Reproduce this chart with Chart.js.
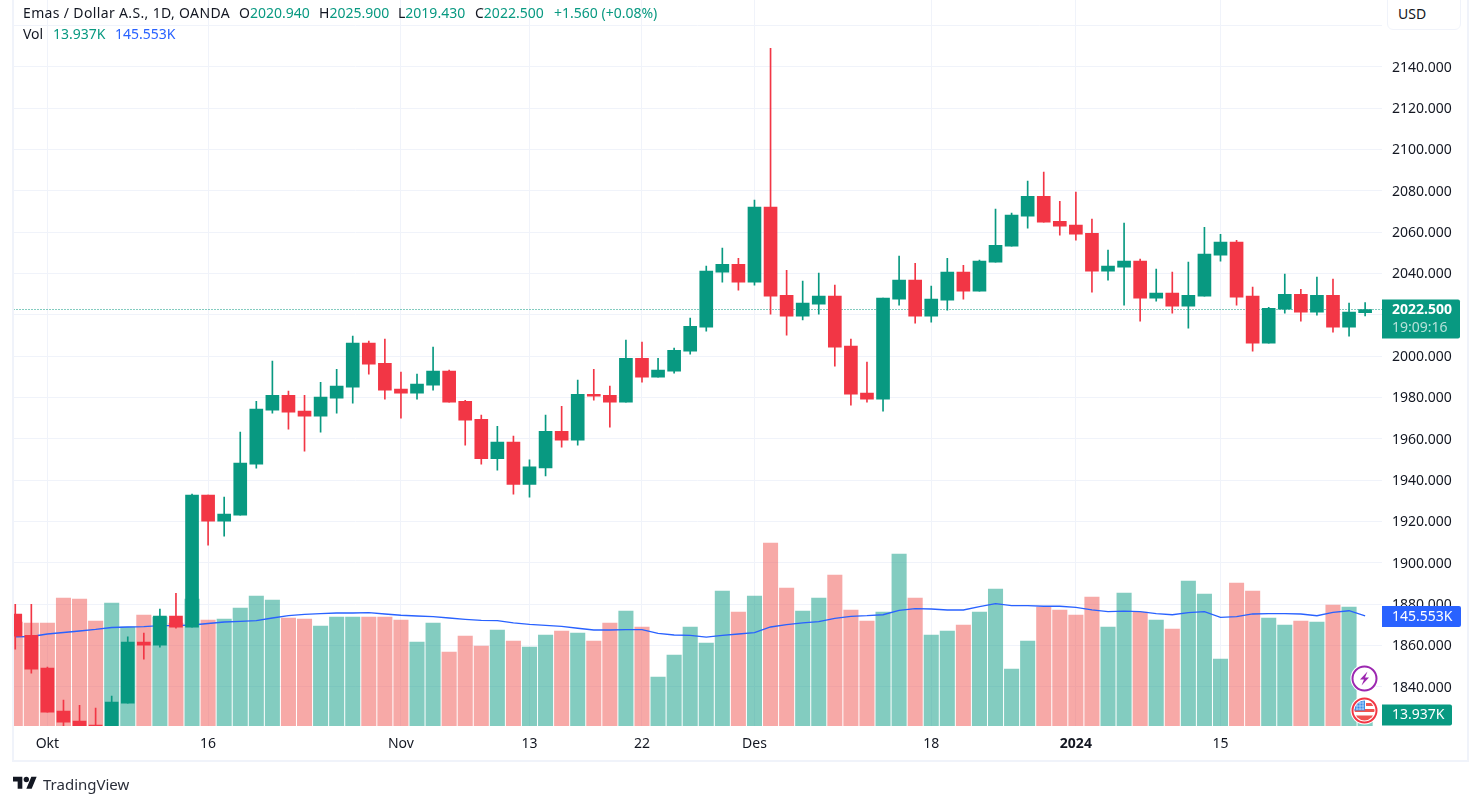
<!DOCTYPE html>
<html>
<head>
<meta charset="utf-8">
<title>Emas / Dollar A.S.</title>
<script src="https://cdn.jsdelivr.net/npm/chart.js@4/dist/chart.umd.min.js"></script>
<style>
  html, body { margin: 0; padding: 0; background: #fff; overflow: hidden; }
  body { width: 1480px; height: 805px; position: relative; font-family: "Noto Sans", sans-serif; color: #131722; }
  #chart { position: absolute; left: 0; top: 0; }
  #frame { position: absolute; left: 12px; top: -4px; width: 1457px; height: 766px; box-sizing: border-box; border: 2px solid #f0f3fa; }
  #usd { position: absolute; left: 1387px; top: -6px; width: 74px; height: 36px; box-sizing: border-box; border: 1px solid #f0f3fa; border-radius: 6px; background: #fff; }
  .t { position: absolute; font-size: 14px; line-height: 20px; white-space: nowrap; }
  .up { color: #089981; }
  .blue { color: #2962ff; }
  .icon { position: absolute; }
</style>
</head>
<body>
<canvas id="chart" width="1480" height="805"></canvas>
<div id="frame"></div>
<div id="usd"></div>
<div class="t" style="left:1398px;top:4px">USD</div>

<div class="t" style="left:23px;top:3px;letter-spacing:0.35px">Emas / Dollar A.S., 1D, OANDA</div>
<div class="t" style="left:239px;top:3px">O<span class="up">2020.940</span></div>
<div class="t" style="left:319px;top:3px">H<span class="up">2025.900</span></div>
<div class="t" style="left:398px;top:3px">L<span class="up">2019.430</span></div>
<div class="t" style="left:475px;top:3px">C<span class="up">2022.500</span></div>
<div class="t up" style="left:554px;top:3px">+1.560 (+0.08%)</div>
<div class="t" style="left:23px;top:24px">Vol</div>
<div class="t up" style="left:53px;top:24px">13.937K</div>
<div class="t blue" style="left:115px;top:24px">145.553K</div>

<svg class="icon" style="left:1350px;top:664px" width="29" height="29" viewBox="0 0 29 29">
  <circle cx="14.5" cy="14.5" r="14" fill="#fff"/>
  <circle cx="14.5" cy="14.5" r="12" fill="#fff" stroke="#9c27b0" stroke-width="2"/>
  <path d="M17.5 7.5 L10 15.5 H14 L11.5 21.5 L19 13.5 H15 Z" fill="#9c27b0"/>
</svg>
<svg class="icon" style="left:1350px;top:696px" width="29" height="29" viewBox="0 0 29 29">
  <defs><clipPath id="flagClip"><circle cx="14.5" cy="14.5" r="10"/></clipPath></defs>
  <circle cx="14.5" cy="14.5" r="14" fill="#fff"/>
  <circle cx="14.5" cy="14.5" r="12" fill="#fff" stroke="#f23645" stroke-width="2"/>
  <g clip-path="url(#flagClip)">
    <rect x="3" y="13" width="23" height="3" fill="#ef5350"/>
    <rect x="3" y="19.5" width="23" height="6" fill="#ef5350"/>
    <rect x="16" y="7" width="10" height="3" fill="#ef5350"/>
    <rect x="3" y="3" width="12" height="11.5" fill="#3d8ee6"/>
    <path d="M6 7h8M6 10h8M6 13h8M7 5v9M10 5v9M13 5v9" stroke="#cfe3fa" stroke-width="0.7"/>
  </g>
</svg>

<svg class="icon" style="left:13px;top:774px" width="24" height="19" viewBox="0 0 36 28">
  <path d="M14 22H7V11H0V4h14v18zM28 22h-8l7.5-18h8L28 22z" fill="#131722"/>
  <circle cx="20" cy="8" r="4" fill="#131722"/>
</svg>
<div class="t" style="left:43px;top:774px;font-size:15px;color:#2a2e39">TradingView</div>

<script>
const opens = [
  1875.1,1864.9,1849.0,1828.2,1823.3,1821.4,1816.5,1832.0,1861.6,1860.1,
  1874.1,1868.8,1932.7,1920.1,1923.0,1947.7,1973.8,1981.0,1973.3,1970.9,
  1979.6,1984.9,2006.2,1996.5,1984.0,1982.0,1985.9,1992.7,1978.1,1969.4,
  1950.3,1958.3,1937.9,1945.9,1963.6,1959.3,1981.5,1981.0,1977.7,1998.9,
  1989.8,1992.7,2002.3,2014.0,2040.6,2044.4,2035.7,2072.0,2029.4,2019.3,
  2025.1,2029.0,2004.8,1982.0,1979.1,2027.5,2036.7,2019.3,2027.0,2040.6,
  2031.4,2045.4,2053.1,2067.7,2077.3,2065.2,2063.3,2059.4,2041.1,2043.0,
  2045.9,2028.0,2030.4,2024.1,2029.0,2048.8,2055.1,2029.0,2006.2,2022.7,
  2029.9,2021.2,2029.4,2014.0,2020.94
];
const highs = [
  1879.9,1879.9,1849.5,1833.5,1831.0,1829.6,1835.4,1864.1,1865.9,1877.5,
  1885.2,1933.2,1932.7,1931.7,1963.2,1978.1,1997.5,1983.0,1981.0,1987.3,
  1993.6,2009.6,2007.2,2008.2,1992.2,1991.2,2004.3,1993.2,1978.6,1971.4,
  1966.0,1961.2,1949.8,1971.4,1975.7,1988.3,1993.6,1985.4,2007.7,2006.7,
  1998.9,2003.8,2018.3,2043.5,2052.2,2047.3,2075.4,2148.9,2041.5,2036.2,
  2040.1,2034.3,2008.2,1997.0,2028.0,2048.3,2044.9,2033.8,2047.3,2043.9,
  2046.4,2071.1,2069.1,2084.6,2089.0,2074.9,2079.3,2066.2,2051.2,2064.3,
  2046.9,2042.0,2040.6,2045.4,2062.3,2058.9,2056.0,2033.3,2023.6,2039.6,
  2032.3,2038.2,2037.2,2025.6,2025.9
];
const lows = [
  1858.2,1846.5,1827.7,1819.9,1816.1,1815.1,1814.9,1832.0,1853.3,1859.1,
  1868.3,1868.8,1908.5,1912.8,1923.0,1945.7,1972.3,1964.6,1953.9,1963.2,
  1972.3,1977.2,1991.2,1979.1,1969.9,1979.1,1983.5,1977.7,1956.8,1947.7,
  1944.8,1933.1,1931.7,1942.0,1955.9,1956.8,1978.6,1965.6,1977.7,1987.3,
  1989.8,1991.7,2000.9,2012.0,2035.7,2031.9,2034.3,2020.2,2010.1,2017.4,
  2020.2,1995.1,1976.2,1977.7,1973.3,2024.6,2015.9,2016.4,2022.2,2027.5,
  2031.4,2045.4,2053.1,2061.9,2064.8,2058.5,2056.1,2030.9,2036.7,2024.6,
  2016.9,2026.5,2020.7,2013.5,2029.0,2045.9,2024.6,2002.3,2006.2,2020.7,
  2016.9,2019.7,2011.5,2009.6,2019.43
];
const closes = [
  1864.4,1848.5,1827.7,1822.8,1818.0,1820.4,1832.5,1861.6,1860.1,1874.1,
  1868.8,1932.7,1920.1,1923.5,1948.2,1974.3,1981.0,1972.8,1970.9,1980.1,
  1985.4,2006.2,1996.0,1983.5,1982.0,1986.4,1992.7,1977.7,1968.9,1950.3,
  1958.3,1937.9,1946.4,1963.6,1959.3,1981.5,1980.6,1977.7,1998.9,1989.8,
  1993.2,2002.8,2014.4,2041.1,2044.4,2035.7,2072.0,2029.0,2019.3,2025.6,
  2029.0,2004.3,1981.5,1979.1,2028.0,2036.7,2019.3,2027.5,2040.6,2031.4,
  2045.9,2053.6,2068.2,2077.3,2064.8,2062.8,2059.0,2041.1,2043.5,2045.9,
  2028.0,2030.4,2024.1,2029.4,2049.3,2055.1,2028.5,2006.2,2023.1,2029.9,
  2021.2,2029.4,2014.0,2021.2,2022.5
];
// volume in thousands
const volumes = [
  137.6,136.3,136.3,169.3,168.0,138.9,162.7,131.0,146.9,144.2,
  136.3,168.0,140.2,141.6,156.1,172.0,166.7,142.9,141.6,132.3,
  144.2,144.2,144.2,144.2,140.2,111.1,136.3,97.9,119.1,105.8,
  127.0,112.5,104.5,120.4,125.7,123.0,112.5,136.3,152.1,131.0,
  64.8,93.9,131.0,109.8,178.6,150.8,172.0,242.1,182.6,152.1,
  169.3,199.8,153.5,138.9,150.8,227.6,169.3,120.4,125.7,133.6,
  150.8,181.3,75.4,112.5,157.4,153.5,146.9,170.7,131.0,176.0,
  150.8,140.2,128.3,191.8,174.6,88.6,189.2,178.6,142.9,133.6,
  138.9,137.6,160.1,157.4,13.937
];
const volumeMA = [
  118.1,118.4,121.7,123.7,125.7,127.7,130.3,131.0,131.6,132.7,
  132.7,133.6,135.6,137.6,138.5,139.3,142.9,145.9,147.8,148.8,
  149.5,149.5,149.9,148.2,146.5,145.5,144.6,142.9,141.2,139.8,
  139.3,136.3,134.5,133.2,131.9,129.3,127.0,127.0,127.4,127.4,
  122.6,120.4,120.0,117.7,120.0,121.7,123.4,131.0,134.0,136.3,
  138.0,142.5,145.1,145.9,147.2,153.1,155.2,154.8,153.5,153.5,
  157.8,161.8,159.2,159.2,158.4,158.4,157.0,153.5,151.2,152.1,
  151.2,148.6,147.2,149.9,151.2,143.8,144.6,148.2,148.6,148.6,
  148.2,145.9,150.4,152.5,145.553
];
const priceTicks = [1840,1860,1880,1900,1920,1940,1960,1980,2000,2020,2040,2060,2080,2100,2120,2140,2160];
const dateTickIndex = [2,12,24,32,39,46,57,66,75];
const dateTickLabels = ["Okt","16","Nov","13","22","Des","18","2024","15"];

const GREEN = "#089981";
const RED = "#f23645";
const GREEN_VOL = "rgba(8,153,129,0.5)";
const RED_VOL = "rgba(239,83,80,0.5)";
const BLUE = "#2962ff";
const GRID = "#f0f3fa";
const FONT = '"Noto Sans", sans-serif';

const last = closes.length - 1;
const xMin = -0.11, xMax = 85.05;
const isUp = i => closes[i] >= opens[i];
const candleColors = opens.map((o, i) => isUp(i) ? GREEN : RED);
const volumeColors = opens.map((o, i) => isUp(i) ? GREEN_VOL : RED_VOL);

// price tags on the right axis, and the volume tags
const tagsPlugin = {
  id: "tags",
  afterDraw(chart) {
    const c = chart.ctx;
    const py = chart.scales.y.getPixelForValue(closes[last]);
    const vy = chart.scales.vol.getPixelForValue(volumeMA[last]);
    const ly = chart.scales.vol.getPixelForValue(volumes[last]);
    const tag = (x, y, w, h, color) => {
      c.fillStyle = color;
      c.beginPath();
      c.roundRect(x, y, w, h, [0, 2, 2, 0]);
      c.fill();
    };
    c.save();
    c.textBaseline = "middle";
    c.textAlign = "left";
    tag(1382, vy - 10, 79, 21, BLUE);
    tag(1382, ly - 11, 70, 21, GREEN);
    tag(1382, py - 10, 78, 39, GREEN);
    c.font = "14px " + FONT;
    c.fillStyle = "#fff";
    c.fillText(volumeMA[last].toFixed(3) + "K", 1392, vy + 1);
    c.fillText(volumes[last].toFixed(3) + "K", 1392, ly);
    c.font = "bold 14px " + FONT;
    c.fillText(closes[last].toFixed(3), 1392, py + 1);
    c.font = "14px " + FONT;
    c.fillStyle = "rgba(255,255,255,0.7)";
    c.fillText("19:09:16", 1392, py + 19);
    c.restore();
  }
};

new Chart(document.getElementById("chart"), {
  data: {
    datasets: [
      {
        type: "bar", order: 1, yAxisID: "y", grouped: false, barThickness: 13,
        data: opens.map((o, i) => ({ x: i, y: [Math.min(o, closes[i]), Math.max(o, closes[i])] })),
        backgroundColor: candleColors
      },
      {
        type: "bar", order: 2, yAxisID: "y", grouped: false, barThickness: 1,
        data: lows.map((l, i) => ({ x: i, y: [l, highs[i]] })),
        backgroundColor: candleColors
      },
      {
        type: "line", order: 3, yAxisID: "y",
        data: [{ x: xMin, y: closes[last] }, { x: xMax, y: closes[last] }],
        borderColor: GREEN, borderWidth: 1, borderDash: [1, 2], pointRadius: 0
      },
      {
        type: "line", order: 4, yAxisID: "vol",
        data: volumeMA.map((v, i) => ({ x: i, y: v })),
        borderColor: BLUE, borderWidth: 1.3, pointRadius: 0, tension: 0
      },
      {
        type: "bar", order: 5, yAxisID: "vol", grouped: false, barThickness: 14.4,
        data: volumes.map((v, i) => ({ x: i, y: v })),
        backgroundColor: volumeColors
      }
    ]
  },
  plugins: [tagsPlugin],
  options: {
    responsive: false,
    animation: false,
    layout: { padding: { left: 13.5, right: 14, top: 0, bottom: 45 } },
    plugins: { legend: { display: false }, tooltip: { enabled: false } },
    scales: {
      x: {
        type: "linear", offset: false, min: xMin, max: xMax,
        afterBuildTicks: s => { s.ticks = dateTickIndex.map(v => ({ value: v })); },
        afterFit: s => { s.height = 34; s.paddingLeft = 0; s.paddingRight = 0; },
        grid: { color: GRID, drawTicks: false, offset: false },
        border: { display: false },
        ticks: {
          autoSkip: false, maxRotation: 0, padding: 10, color: "#131722",
          font: ctx => ({ family: FONT, size: 14, weight: ctx.tick && ctx.tick.value === 66 ? "bold" : "normal" }),
          callback: v => dateTickLabels[dateTickIndex.indexOf(v)]
        }
      },
      y: {
        type: "linear", position: "right", min: 1820.97, max: 2172.26,
        afterBuildTicks: s => { s.ticks = priceTicks.map(v => ({ value: v })); },
        afterFit: s => { s.width = 84; s.paddingTop = 0; s.paddingBottom = 0; },
        grid: { color: GRID, drawTicks: false },
        border: { display: false },
        ticks: {
          padding: 10, crossAlign: "near", color: "#131722", labelOffset: 1,
          font: { family: FONT, size: 14 },
          callback: v => v >= 2160 ? "" : v.toFixed(3)
        }
      },
      vol: {
        type: "linear", display: false, min: 0, max: 960.5,
        grid: { display: false }
      }
    }
  }
});
</script>
</body>
</html>
